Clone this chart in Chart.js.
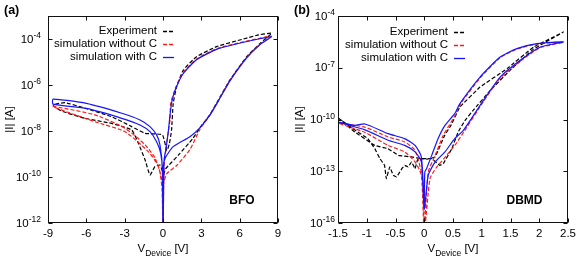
<!DOCTYPE html>
<html><head><meta charset="utf-8">
<script src="https://cdn.jsdelivr.net/npm/chart.js@4.4.1/dist/chart.umd.min.js"></script>
<style>
html,body{margin:0;padding:0;background:#fff;}
#wrap{position:relative;width:581px;height:260px;overflow:hidden;}
canvas{position:absolute;top:0;}
#ca{left:0;} #cb{left:290px;}
</style></head><body>
<div id="wrap"><canvas id="ca" width="290" height="260"></canvas><canvas id="cb" width="291" height="260"></canvas></div>
<script>
// ---------- shared ----------
const seriesLabels = ['Experiment', 'simulation without C', 'simulation with C'];
const panelTags = ['(a)', '(b)'];
const sampleNames = ['BFO', 'DBMD'];
const xTitleMain = 'V';
const xTitleSub = 'Device';
const xTitleUnit = ' [V]';
const yTitle = '|I| [A]';

// ---------- panel (a) BFO ----------
const bfoXTicks = [-9, -6, -3, 0, 3, 6, 9];
const bfoXTickLabels = ['-9', '-6', '-3', '0', '3', '6', '9'];
const bfoYTicks = [1e-12, 1e-10, 1e-8, 1e-6, 1e-4];
const bfoYTickExp = ['-12', '-10', '-8', '-6', '-4'];

const bfoExpV = [0.05, 0.2, 1.2, 2.3, 2.9, 3.68, 4.33, 5.24, 6.55, 7.6, 8.5,
  7.5, 6.3, 4.2, 2.63, 1.59, 1.07, 0.8, 0.67, 0.5, 0.3, -0.05,
  -1.4, -2.45, -4.02, -6.1, -7.67, -8.6,
  -8.0, -6.1, -4.02, -2.45, -1.93, -1.4, -1.02, -0.63, -0.24, 0.05];
const bfoExpI = [1.26e-10, 2.24e-10, 8.91e-10, 4.47e-9, 1.41e-8, 5.25e-8, 2.24e-7, 1.66e-6, 1.70e-5, 6.46e-5, 1.78e-4,
  1.51e-4, 1.0e-4, 4.68e-5, 1.70e-5, 4.47e-6, 8.51e-7, 1.58e-7, 1.10e-8, 2.82e-9, 1.41e-9, 6.76e-9,
  7.94e-9, 1.55e-8, 4.17e-8, 9.77e-8, 1.70e-7, 1.35e-7,
  7.59e-8, 3.55e-8, 2.14e-8, 1.10e-8, 2.95e-9, 5.50e-10, 1.23e-10, 2.82e-10, 3.31e-10, 1.26e-10];

const bfoNoCV = [0, 0.02, 0.3, 1.07, 2.11, 2.9, 3.68, 4.33, 5.24, 6.55, 7.6, 8.5,
  7.5, 6.3, 4.2, 2.63, 1.59, 1.0, 0.6, 0.55, 0.42, 0.3, 0.08, 0,
  -0.1, -0.63, -1.4, -2.97, -5.32, -8.6,
  -5.32, -2.97, -1.15, -0.35, -0.08, 0];
const bfoNoCI = [1e-13, 3.98e-11, 1.41e-10, 3.16e-10, 1.58e-9, 1.20e-8, 5.01e-8, 2.09e-7, 1.58e-6, 1.58e-5, 6.03e-5, 1.32e-4,
  1.05e-4, 7.59e-5, 3.80e-5, 1.35e-5, 3.55e-6, 7.94e-7, 1.58e-7, 3.16e-8, 1e-8, 3.16e-9, 2.82e-10, 1e-13,
  7.94e-11, 6.76e-10, 2.51e-9, 1.32e-8, 5.01e-8, 1.15e-7,
  2.51e-8, 9.33e-9, 1.26e-9, 2.82e-10, 3.16e-11, 1e-13];

const bfoWithCV = [0, 0.02, 0.16, 0.8, 2.11, 2.9, 3.68, 4.33, 5.24, 6.55, 7.6, 8.5,
  7.5, 6.3, 4.2, 2.63, 1.59, 1.0, 0.7, 0.55, 0.42, 0.25, 0.08, 0,
  -0.05, -0.24, -0.5, -1.02, -1.8, -3.23, -6.0, -8.6,
  -8.6, -6.0, -3.23, -1.8, -1.02, -0.5, -0.18, -0.05, 0];
const bfoWithCI = [1e-13, 2.51e-10, 6.46e-10, 2.09e-9, 5.62e-9, 1.41e-8, 5.01e-8, 2.0e-7, 1.51e-6, 1.51e-5, 5.75e-5, 1.26e-4,
  1.0e-4, 7.24e-5, 3.55e-5, 1.26e-5, 3.16e-6, 7.08e-7, 2.0e-7, 5.01e-8, 1e-8, 2.0e-9, 5.01e-10, 1e-13,
  2.51e-10, 2.51e-9, 6.76e-9, 1.55e-8, 3.02e-8, 5.89e-8, 1.58e-7, 2.45e-7,
  1.48e-7, 9.55e-8, 3.55e-8, 1.82e-8, 9.33e-9, 3.39e-9, 1.07e-9, 2.0e-10, 1e-13];

// ---------- panel (b) DBMD ----------
const dbmdXTicks = [-1.5, -1, -0.5, 0, 0.5, 1, 1.5, 2, 2.5];
const dbmdXTickLabels = ['-1.5', '-1', '-0.5', '0', '0.5', '1', '1.5', '2', '2.5'];
const dbmdYTicks = [1e-16, 1e-13, 1e-10, 1e-7, 1e-4];
const dbmdYTickExp = ['-16', '-13', '-10', '-7', '-4'];

const dbmdExpV = [-1.5, -1.21, -0.86, -0.63, -0.45, -0.22, -0.05, 0.13, 0.27, 0.33, 0.48, 0.59, 0.71, 0.85, 1.15, 1.49, 1.9, 2.42,
  1.9, 1.44, 0.97, 0.62, 0.47, 0.35, 0.19, 0.05,
  -0.11, -0.16, -0.22, -0.28, -0.34, -0.39, -0.48, -0.54, -0.6, -0.66, -0.69, -0.77, -0.86, -0.98, -1.21, -1.5];
const dbmdExpI = [1.26e-10, 1.91e-11, 3.16e-12, 2.04e-12, 8.32e-13, 6.76e-13, 5.37e-13, 5.37e-13, 2.19e-13, 2.75e-13, 2.04e-12, 1.91e-11, 8.91e-11, 3.39e-10, 4.90e-9, 7.08e-8, 1.20e-6, 1.17e-5,
  1.58e-6, 8.91e-8, 7.59e-9, 5.37e-10, 5.01e-11, 1.12e-11, 6.76e-13, 5.01e-13,
  5.37e-13, 1.41e-13, 3.47e-13, 1.78e-13, 2.19e-13, 1.41e-13, 4.68e-14, 5.89e-14, 1.78e-13, 3.72e-14, 2.19e-13, 5.37e-13, 2.04e-12, 7.76e-12, 2.51e-11, 1.26e-10];

const dbmdNoCV = [0, 0.07, 0.19, 0.33, 0.53, 0.62, 0.97, 1.32, 1.61, 1.96, 2.42,
  2.02, 1.67, 1.32, 1.03, 0.65, 0.53, 0.39, 0.22, 0.1, 0,
  -0.05, -0.16, -0.34, -0.63, -1.03, -1.5,
  -1.03, -0.63, -0.34, -0.16, -0.03, 0];
const dbmdNoCI = [3.16e-17, 9.12e-14, 8.32e-13, 1.20e-11, 1.58e-10, 7.08e-10, 2.51e-8, 3.80e-7, 1.20e-6, 2.40e-6, 3.02e-6,
  1.48e-6, 2.40e-7, 2.51e-8, 1.12e-9, 1.20e-11, 3.16e-12, 8.32e-13, 1.78e-13, 3.72e-14, 3.16e-17,
  5.89e-14, 3.47e-13, 1.32e-12, 3.16e-12, 1.78e-11, 6.31e-11,
  3.55e-11, 9.77e-12, 5.01e-12, 1.62e-12, 3.72e-14, 3.16e-17];

const dbmdWithCV = [0, 0.01, 0.04, 0.13, 0.24, 0.36, 0.53, 0.62, 0.97, 1.32, 1.61, 1.96, 2.42,
  2.02, 1.67, 1.32, 1.03, 0.68, 0.53, 0.36, 0.19, 0.07, 0,
  -0.05, -0.16, -0.34, -0.63, -1.03, -1.5,
  -1.21, -1.03, -0.63, -0.34, -0.16, -0.05, 0];
const dbmdWithCI = [6.31e-16, 9.12e-14, 1.41e-13, 8.32e-13, 7.76e-12, 4.57e-11, 2.19e-10, 8.32e-10, 2.88e-8, 4.17e-7, 1.29e-6, 2.51e-6, 3.16e-6,
  1.58e-6, 2.69e-7, 2.88e-8, 1.29e-9, 2.34e-11, 7.76e-12, 1.32e-12, 3.47e-13, 5.89e-14, 6.31e-16,
  3.47e-13, 1.32e-12, 3.16e-12, 6.31e-12, 2.51e-11, 7.08e-11,
  4.57e-11, 5.50e-11, 1.51e-11, 7.76e-12, 3.16e-12, 6.76e-13, 6.31e-16];

// ---------- styles ----------
const FONT = '"Liberation Sans", Arial, Helvetica, sans-serif';
const seriesColors = ['#000000', '#ff1a1a', '#1414ff'];
const seriesDash = [[4, 2], [4, 2], []];
const seriesOrder = [2, 1, 0];

function decor(P) {
  return {
    id: 'decor' + P.id,
    afterDraw(chart) {
      const ctx = chart.ctx, a = chart.chartArea, xs = chart.scales.x, ys = chart.scales.y;
      ctx.save();
      const L = Math.round(a.left) + 0.5, R = Math.round(a.right) - 0.5;
      const T = Math.round(a.top) + 0.5, B = Math.round(a.bottom) - 0.5;
      ctx.strokeStyle = '#111'; ctx.lineWidth = 1; ctx.setLineDash([]);
      ctx.strokeRect(L, T, R - L, B - T);
      ctx.beginPath();
      P.xTicks.forEach(v => {
        const x = Math.round(xs.getPixelForValue(v)) + 0.5;
        ctx.moveTo(x, B); ctx.lineTo(x, B - 4);
        ctx.moveTo(x, T); ctx.lineTo(x, T + 4);
      });
      P.yTicks.forEach(v => {
        const y = Math.round(ys.getPixelForValue(v)) + 0.5;
        ctx.moveTo(L, y); ctx.lineTo(L + 4, y);
        ctx.moveTo(R, y); ctx.lineTo(R - 4, y);
      });
      ctx.stroke();

      // y tick labels 10^n
      ctx.fillStyle = '#000';
      ctx.textBaseline = 'middle';
      ctx.textAlign = 'left';
      const f1 = '11.5px ' + FONT, f2 = '8.5px ' + FONT;
      P.yTicks.forEach((v, i) => {
        const y = ys.getPixelForValue(v);
        ctx.font = f1; const w1 = ctx.measureText('10').width;
        ctx.font = f2; const w2 = ctx.measureText(P.yTickExp[i]).width;
        const x0 = P.yLabelRight - w1 - w2;
        ctx.font = f1; ctx.fillText('10', x0, y + 0.5);
        ctx.font = f2; ctx.fillText(P.yTickExp[i], x0 + w1, y - 3);
      });

      // x title with subscript
      const cx = (a.left + a.right) / 2;
      const fm = '11.5px ' + FONT, fs = '8.5px ' + FONT;
      ctx.font = fm; const wa = ctx.measureText(xTitleMain).width, wc = ctx.measureText(xTitleUnit).width;
      ctx.font = fs; const wb = ctx.measureText(xTitleSub).width;
      let x = cx - (wa + wb + wc) / 2;
      ctx.font = fm; ctx.fillText(xTitleMain, x, 249);
      ctx.font = fs; ctx.fillText(xTitleSub, x + wa, 253.5);
      ctx.font = fm; ctx.fillText(xTitleUnit, x + wa + wb, 249);

      // y title
      ctx.save();
      ctx.translate(10, (a.top + a.bottom) / 2);
      ctx.rotate(-Math.PI / 2);
      ctx.textAlign = 'center';
      ctx.font = '11.5px ' + FONT;
      ctx.fillText(yTitle, 0, 0);
      ctx.restore();

      // legend (gnuplot style: text right-aligned, sample on right)
      ctx.font = '11.5px ' + FONT;
      ctx.textAlign = 'right';
      chart.data.datasets.forEach((ds, i) => {
        const y = P.legendY[i];
        ctx.fillStyle = '#000';
        ctx.fillText(ds.label, P.legendTextRight, y);
        ctx.strokeStyle = ds.borderColor;
        ctx.lineWidth = 1.3;
        ctx.setLineDash(ds.borderDash);
        ctx.beginPath();
        ctx.moveTo(P.legendTextRight + 6, Math.round(y) + 0.5);
        ctx.lineTo(P.legendTextRight + 17, Math.round(y) + 0.5);
        ctx.stroke();
      });
      ctx.setLineDash([]);

      // panel tag and sample name
      ctx.fillStyle = '#000';
      ctx.textAlign = 'left';
      ctx.font = 'bold 12.5px ' + FONT;
      ctx.fillText(P.tag, 4, 11);
      ctx.textAlign = 'center';
      ctx.font = 'bold 12px ' + FONT;
      ctx.fillText(P.sample, P.sampleX, 201);
      ctx.restore();
    }
  };
}

function makePanel(canvasId, P) {
  const datasets = P.series.map((s, i) => ({
    label: seriesLabels[i],
    data: s.v.map((v, k) => ({ x: v, y: s.i[k] })),
    showLine: true,
    borderColor: seriesColors[i],
    borderDash: seriesDash[i],
    borderWidth: 1.2,
    pointRadius: 0,
    pointHoverRadius: 0,
    tension: s.tension,
    fill: false,
    order: seriesOrder[i]
  }));
  return new Chart(document.getElementById(canvasId), {
    type: 'scatter',
    data: { datasets },
    options: {
      responsive: false,
      animation: false,
      devicePixelRatio: 1,
      events: [],
      layout: { padding: { left: 0, right: P.padRight, top: 16, bottom: 0 } },
      plugins: { legend: { display: false }, tooltip: { enabled: false } },
      scales: {
        x: {
          type: 'linear', min: P.xMin, max: P.xMax,
          afterBuildTicks: sc => { sc.ticks = P.xTicks.map(v => ({ value: v })); },
          ticks: {
            callback: (v, idx) => P.xTickLabels[idx],
            font: { family: FONT, size: 11.5 }, color: '#000',
            padding: 4, autoSkip: false, maxRotation: 0, minRotation: 0
          },
          grid: { display: false, drawTicks: false },
          border: { display: false },
          afterFit: sc => { sc.height = 37; }
        },
        y: {
          type: 'logarithmic', min: P.yMin, max: P.yMax,
          ticks: { display: false },
          grid: { display: false, drawTicks: false },
          border: { display: false },
          afterFit: sc => { sc.width = 48; }
        }
      }
    },
    plugins: [decor(P)]
  });
}

makePanel('ca', {
  id: 'a', xMin: -9, xMax: 9, xTicks: bfoXTicks, xTickLabels: bfoXTickLabels,
  yMin: 1e-12, yMax: 1e-3, yTicks: bfoYTicks, yTickExp: bfoYTickExp,
  padRight: 12, yLabelRight: 41, legendTextRight: 157, legendY: [31, 44, 57],
  tag: panelTags[0], sample: sampleNames[0], sampleX: 242,
  series: [
    { v: bfoExpV, i: bfoExpI, tension: 0.15 },
    { v: bfoNoCV, i: bfoNoCI, tension: 0.2 },
    { v: bfoWithCV, i: bfoWithCI, tension: 0.2 }
  ]
});

makePanel('cb', {
  id: 'b', xMin: -1.5, xMax: 2.5, xTicks: dbmdXTicks, xTickLabels: dbmdXTickLabels,
  yMin: 1e-16, yMax: 1e-4, yTicks: dbmdYTicks, yTickExp: dbmdYTickExp,
  padRight: 13, yLabelRight: 45, legendTextRight: 158, legendY: [32, 45, 58],
  tag: panelTags[1], sample: sampleNames[1], sampleX: 234.5,
  series: [
    { v: dbmdExpV, i: dbmdExpI, tension: 0.05 },
    { v: dbmdNoCV, i: dbmdNoCI, tension: 0.2 },
    { v: dbmdWithCV, i: dbmdWithCI, tension: 0.2 }
  ]
});
</script>
</body></html>
